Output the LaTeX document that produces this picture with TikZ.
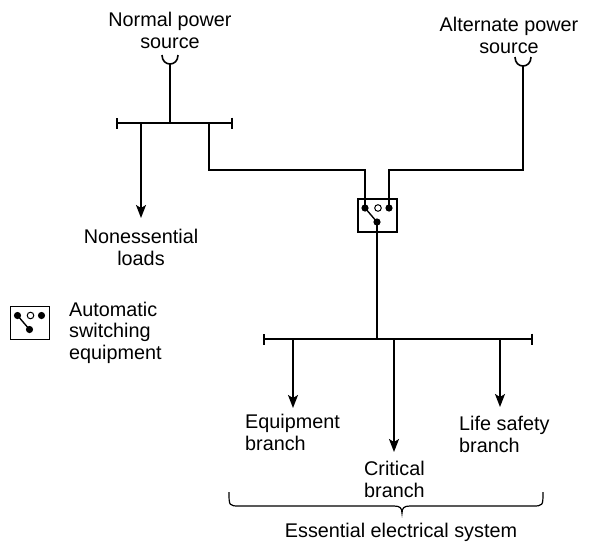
\documentclass[tikz,border=0pt]{standalone}
\usepackage{fontspec}
\setmainfont{Liberation Sans}
\usetikzlibrary{arrows.meta}
\begin{document}
\begin{tikzpicture}[x=1pt,y=-1pt,
  wire/.style={line width=1.6pt, line join=miter},
  feed/.style={wire, -{Stealth[length=13pt,width=10pt,inset=3pt]}},
  bus/.style={wire, {Bar[width=11pt,line width=1.6pt]}-{Bar[width=11pt,line width=1.6pt]}},
  lbl/.style={font=\fontsize{19.8}{21.5}\selectfont, inner sep=0pt, anchor=base},
  dot/.style={fill=black},
  pics/ats/.style={code={
    \draw[line width=1.4pt] (-19.5,-16.5) rectangle (19.5,16.5);
    \coordinate (-l) at (-12.5,-7.5);
    \coordinate (-r) at (11.5,-7.5);
    \coordinate (-o) at (0.5,-7.5);
    \coordinate (-b) at (-0.5,6.5);
    \draw[line width=1.4pt] (-l) -- (-b);
    \fill[dot] (-l) circle[radius=3.6pt];
    \fill[dot] (-r) circle[radius=3.6pt];
    \fill[dot] (-b) circle[radius=3.6pt];
    \draw[line width=1pt] (-o) circle[radius=3.3pt];
  }}]
\useasboundingbox (0,0) rectangle (608,544);

% sources (base anchor = baseline of last line)
\node[lbl, align=center] (normal) at (170,48) {Normal power\\source};
\node[lbl, align=center] (alt) at (509,53) {Alternate power\\source};
\draw[wire] (162,55) .. controls (162,67) and (178,67) .. (178,55);
\coordinate (ncup) at (170,64);
\draw[wire] (515,57) .. controls (515,69) and (531,69) .. (531,57);
\coordinate (acup) at (523,66);

% top bus
\coordinate (b1l) at (116,123);
\coordinate (b1r) at (233,123);
\coordinate (b1n) at (170,123);
\coordinate (b1a) at (141,123);
\coordinate (b1s) at (209,123);
\draw[bus] (b1l) -- (b1r);
\draw[wire] (ncup) -- (b1n);

% nonessential
\coordinate (netip) at (141,218);
\draw[feed] (b1a) -- (netip);
\node[lbl, align=center] (ne) at (141,265) {Nonessential\\loads};

% transfer switch
\pic (sw) at (377.5,215.5) {ats};
\draw[wire] (b1s) |- (365,170) -- (sw-l);
\draw[wire] (sw-r) -- (389,170) -| (acup);

% lower bus
\coordinate (b2l) at (263,339);
\coordinate (b2r) at (533,339);
\coordinate (b2n) at (377,339);
\draw[bus] (b2l) -- (b2r);
\draw[wire] (sw-b) -- (b2n);

\coordinate (eqs) at (293,339);
\coordinate (eqt) at (293,408);
\coordinate (crs) at (394,339);
\coordinate (crt) at (394,452);
\coordinate (lss) at (500,339);
\coordinate (lst) at (500,407);
\draw[feed] (eqs) -- (eqt);
\draw[feed] (crs) -- (crt);
\draw[feed] (lss) -- (lst);

\node[lbl, align=left, anchor=base west] (eq) at (245,450) {Equipment\\branch};
\node[lbl, align=left, anchor=base west] (cr) at (364,497) {Critical\\branch};
\node[lbl, align=left, anchor=base west] (ls) at (459,452) {Life safety\\branch};

% brace
\draw[line width=1.2pt] (229,492) .. controls (229,506) and (229,506) .. (240,506)
  -- (394,506) .. controls (400,506) and (402,508) .. (402,513)
  .. controls (402,508) and (404,506) .. (410,506) -- (532,506)
  .. controls (543,506) and (543,506) .. (543,492);
\node[lbl] (ees) at (401,537) {Essential electrical system};

% legend
\pic (lg) at (30,323) {ats};
\node[lbl, align=left, anchor=base west] (lgt) at (69,359) {Automatic\\switching\\equipment};
\end{tikzpicture}
\end{document}
